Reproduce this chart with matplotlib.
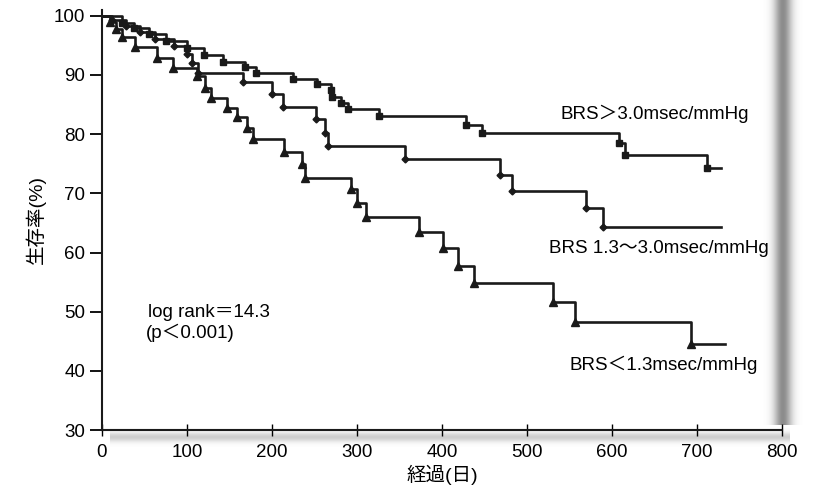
import matplotlib
matplotlib.use("Agg")
import numpy as np
import matplotlib.pyplot as plt

plt.rcParams['font.family'] = ['Liberation Sans', 'Noto Sans CJK JP', 'DejaVu Sans']

# BRS > 3.0 msec/mmHg (squares): event days and survival (%) after each step
high_days = [24, 38, 55, 75, 100, 120, 143, 168.6, 181.6, 225, 253.5, 269, 271, 281, 289,
             325.5, 429, 447, 608.5, 615.6, 712]
high_surv = [98.8, 97.9, 96.9, 95.8, 94.6, 93.3, 92.2, 91.3, 90.3, 89.3, 88.4, 87.4, 86.3,
             85.2, 84.2, 83.1, 81.5, 80.2, 78.5, 76.4, 74.2]
high_end = 728

# BRS 1.3-3.0 msec/mmHg (diamonds)
mid_days = [12, 28, 45, 62, 85, 100, 106, 113, 166, 200.5, 213.4, 252, 263, 266.5, 357,
            469, 482, 569.6, 589.6]
mid_surv = [99.3, 98.3, 97.2, 96.1, 94.9, 93.6, 92.0, 90.4, 88.8, 86.7, 84.5, 82.5, 80.2,
            78.0, 75.8, 73.1, 70.4, 67.5, 64.3]
mid_end = 729

# BRS < 1.3 msec/mmHg (triangles)
low_days = [10, 17, 23.6, 38.9, 64.9, 83.7, 112, 121.5, 128.5, 147.4, 159.2, 171, 178,
            214.6, 235.8, 239.4, 293.6, 300.7, 311.3, 372.6, 401, 418.6, 437.5, 530.7,
            556.6, 693.4]
low_surv = [99.0, 97.8, 96.4, 94.7, 92.8, 91.1, 89.8, 87.8, 86.1, 84.4, 82.9, 81.0, 79.1,
            76.9, 75.0, 72.6, 70.7, 68.3, 66.0, 63.4, 60.7, 57.7, 54.8, 51.6, 48.2, 44.5]
low_end = 733

x_ticks = [0, 100, 200, 300, 400, 500, 600, 700, 800]
y_ticks = [30, 40, 50, 60, 70, 80, 90, 100]

fig = plt.figure(figsize=(8.19, 4.91), dpi=100)

# scanned page shadow along the right edge and under the x axis (background decoration)
bg = fig.add_axes([0, 0, 1, 1], zorder=-1)
bg.set_axis_off()
bg.set_xlim(0, 819)
bg.set_ylim(491, 0)
xs_g = np.linspace(760, 805, 60)
prof = np.exp(-((xs_g - 783) / 9.0) ** 2)
img = np.ones((2, len(xs_g), 4))
img[..., :3] = 0.35
img[..., 3] = 0.7 * prof
bg.imshow(img, extent=(760, 805, 425, 0), aspect='auto', interpolation='bilinear')
ys_g = np.linspace(428, 450, 30)
prof2 = np.exp(-((ys_g - 437) / 5.0) ** 2)
img2 = np.ones((len(ys_g), 2, 4))
img2[..., :3] = 0.45
img2[..., 3] = (0.35 * prof2)[:, None]
bg.imshow(img2, extent=(110, 790, 450, 428), aspect='auto', interpolation='bilinear')

ax = fig.add_axes([0.1245, 0.124, 0.830, 0.856])
ax.patch.set_alpha(0)


def km(days, surv, end):
    xs = [0] + list(days) + [end]
    ys = [100] + list(surv) + [surv[-1]]
    return xs, ys


for days, surv, end, mk, ms in [
    (high_days, high_surv, high_end, 's', 4.5),
    (mid_days, mid_surv, mid_end, 'D', 3.5),
    (low_days, low_surv, low_end, '^', 6),
]:
    xs, ys = km(days, surv, end)
    ax.step(xs, ys, where='post', color='#1a1a1a', lw=1.9, zorder=3)
    ax.plot(days, surv, ls='none', marker=mk, ms=ms, color='#1a1a1a', zorder=4)

ax.set_xlim(0, 800)
ax.set_ylim(30, 101)
ax.set_xticks(x_ticks)
ax.set_yticks(y_ticks)
ax.tick_params(axis='y', direction='out', length=9, width=1.3, labelsize=13.5, pad=3)
ax.tick_params(axis='x', direction='inout', length=8, width=1.0, labelsize=13.5, pad=6)
for s in ['top', 'right']:
    ax.spines[s].set_visible(False)
for s in ['left', 'bottom']:
    ax.spines[s].set_linewidth(1.5)
    ax.spines[s].set_color('#1a1a1a')

ax.set_xlabel('経過(日)', fontsize=14, labelpad=3)
ax.set_ylabel('生存率(%)', fontsize=14, labelpad=6)

ax.text(540, 83.5, 'BRS＞3.0msec/mmHg', fontsize=13.5, va='center', ha='left')
ax.text(526, 60.7, 'BRS 1.3～3.0msec/mmHg', fontsize=13.5, va='center', ha='left')
ax.text(550, 41.0, 'BRS＜1.3msec/mmHg', fontsize=13.5, va='center', ha='left')
ax.text(54, 49.9, 'log rank＝14.3', fontsize=13.5, va='center', ha='left')
ax.text(52, 46.5, '(p＜0.001)', fontsize=13.5, va='center', ha='left')

fig.savefig('out.png', dpi=100)
